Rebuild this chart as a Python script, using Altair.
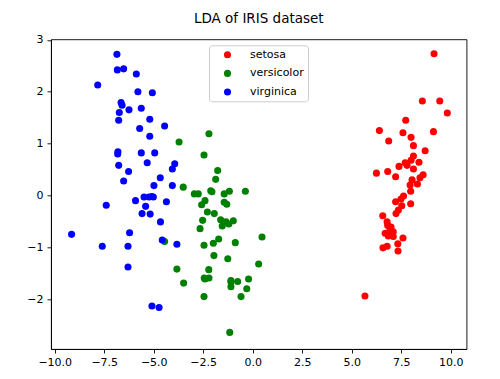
import altair as alt
import pandas as pd

species = ["setosa", "versicolor", "virginica"]
colors = ["#ff0000", "#008000", "#0000ff"]

setosa_x = [9.16, 8.57, 9.45, 9.83, 7.73, 6.40, 7.59, 9.13, 6.87, 8.00,
            8.12, 8.71, 8.12, 8.00, 8.40, 7.80, 7.39, 8.12, 6.25, 6.82,
            7.22, 8.61, 8.05, 8.32, 7.95, 7.98, 7.62, 7.49, 7.22, 7.98,
            7.53, 7.36, 7.24, 6.57, 6.79, 6.82, 6.94, 7.10, 6.69, 6.85,
            7.10, 7.59, 7.33, 6.58, 6.79, 7.34, 5.67, 7.70, 8.45, 6.99]
setosa_y = [2.73, 1.82, 1.82, 1.59, 1.45, 1.25, 1.21, 1.23, 1.05, 1.12,
            0.96, 0.86, 0.76, 0.68, 0.64, 0.58, 0.56, 0.51, 0.43, 0.46,
            0.36, 0.40, 0.30, 0.22, 0.20, 0.08, -0.01, -0.07, -0.12, -0.16,
            -0.20, -0.28, -0.35, -0.39, -0.51, -0.58, -0.66, -0.70, -0.73, -0.78,
            -0.79, -0.82, -0.93, -1.01, -0.98, -1.07, -1.94, 0.63, 0.34, -0.61]

versicolor_x = [-3.72, -2.46, -2.21, -1.77, -1.87, -3.51, -2.95, -2.75, -2.12, -1.44,
                -1.18, -0.37, -2.41, -2.58, -1.44, -1.31, -2.29, -1.94, -2.53, -1.62,
                -0.98, -1.21, -1.54, -2.66, -1.72, -1.99, -2.46, -0.88, 0.47, -1.96,
                -1.26, 0.30, -2.22, -2.45, -2.21, -1.10, -0.76, -0.21, -3.49, -1.10,
                -0.30, -2.46, -0.59, -1.16, -4.45, -3.83, -1.35, -2.06, -2.41, -1.10]
versicolor_y = [1.03, 0.78, 1.19, 0.48, 0.31, 0.16, 0.03, 0.03, 0.09, 0.03,
                0.08, 0.08, -0.10, -0.18, -0.13, -0.17, -0.32, -0.35, -0.48, -0.47,
                -0.49, -0.55, -0.59, -0.64, -0.84, -0.92, -0.96, -0.91, -0.80, -1.16,
                -1.22, -1.32, -1.43, -1.59, -1.59, -1.64, -1.66, -1.61, -1.69, -1.76,
                -1.80, -1.95, -1.95, -2.64, -0.89, -1.42, -0.51, 0.07, -1.61, -1.67]

virginica_x = [-6.86, -6.84, -6.52, -5.88, -7.83, -5.80, -5.07, -6.65, -6.60, -6.74,
               -6.25, -5.63, -6.77, -5.20, -5.71, -4.45, -5.20, -6.81, -6.82, -5.63,
               -4.95, -5.33, -3.94, -4.06, -6.77, -6.27, -6.52, -4.67, -4.99, -4.06,
               -7.40, -5.92, -5.49, -5.24, -5.02, -5.41, -4.36, -5.59, -5.18, -4.66,
               -9.15, -6.22, -7.60, -6.30, -4.57, -3.83, -6.30, -5.09, -4.73, -5.10]
virginica_y = [2.72, 2.42, 2.44, 2.34, 2.13, 2.00, 1.98, 1.79, 1.74, 1.60,
               1.65, 1.68, 1.45, 1.47, 1.29, 1.34, 1.14, 0.84, 0.80, 0.82,
               0.82, 0.63, 0.61, 0.51, 0.58, 0.46, 0.28, 0.34, 0.19, 0.19,
               -0.19, -0.10, -0.03, -0.03, -0.03, -0.21, -0.12, -0.35, -0.36, -0.51,
               -0.75, -0.72, -0.98, -0.98, -0.86, -0.94, -1.38, -2.13, -2.16, -0.02]

x_ticks = [-10.0, -7.5, -5.0, -2.5, 0.0, 2.5, 5.0, 7.5, 10.0]
y_ticks = [-2, -1, 0, 1, 2, 3]

rows = []
for name, xs, ys in [("setosa", setosa_x, setosa_y),
                     ("versicolor", versicolor_x, versicolor_y),
                     ("virginica", virginica_x, virginica_y)]:
    for a, b in zip(xs, ys):
        rows.append({"x": a, "y": b, "target": name})
df = pd.DataFrame(rows)

FONT = "DejaVu Sans"

chart = alt.Chart(df).mark_circle(size=50, opacity=1).encode(
    x=alt.X("x:Q",
            scale=alt.Scale(domain=[-10.19, 10.80], nice=False, zero=False),
            axis=alt.Axis(title=None, values=x_ticks, format=".1f", grid=False)),
    y=alt.Y("y:Q",
            scale=alt.Scale(domain=[-2.96, 3.01], nice=False, zero=False),
            axis=alt.Axis(title=None, values=y_ticks, format="d", grid=False)),
    color=alt.Color("target:N",
                    scale=alt.Scale(domain=species, range=colors),
                    legend=alt.Legend(orient="none", legendX=158, legendY=6,
                                      title=None, padding=4, symbolOffset=9,
                                      labelOffset=17, rowPadding=6.6,
                                      fillColor="white", strokeColor="#cccccc",
                                      cornerRadius=3, labelFont=FONT,
                                      labelFontSize=11, labelColor="black",
                                      symbolSize=50, symbolType="circle",
                                      symbolStrokeWidth=0)),
).properties(
    width=415.5,
    height=309.7,
    title=alt.TitleParams("LDA of IRIS dataset", font=FONT, fontSize=13.5,
                          fontWeight="normal", color="black", offset=8,
                          frame="group", anchor="middle"),
    autosize=alt.AutoSizeParams(type="none"),
    padding={"left": 43, "top": 31.3, "right": 25, "bottom": 30},
).configure_axis(
    labelFont=FONT, labelFontSize=11, labelColor="black",
    tickColor="black", tickWidth=0.9, tickSize=4,
    domainColor="black", domainWidth=0.9, labelPadding=3,
).configure_axisY(labelPadding=4).configure_view(
    stroke="black", strokeWidth=0.9
)

chart.save("out.html", embed_options={"renderer": "svg", "actions": False})
